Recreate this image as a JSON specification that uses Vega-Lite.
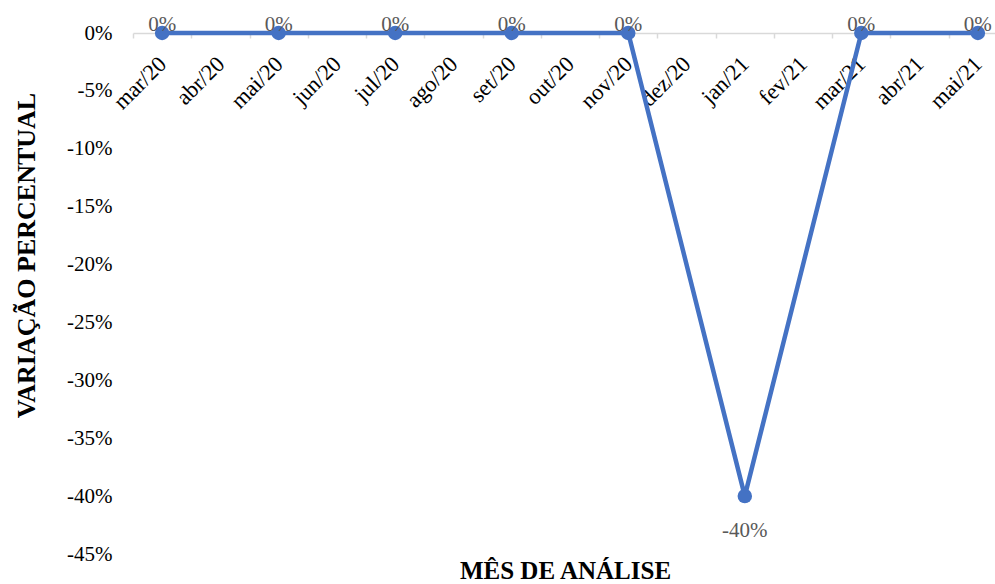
{
  "$schema": "https://vega.github.io/schema/vega-lite/v6.json",
  "width": 862,
  "height": 521,
  "autosize": {"type": "none"},
  "padding": {"left": 133, "top": 33, "right": 0, "bottom": 30},
  "background": "white",
  "config": {
    "font": "Liberation Serif",
    "view": {"stroke": null}
  },
  "data": {
    "values": [
      {"mes": "mar/20", "variacao": 0, "rotulo": "0%"},
      {"mes": "mai/20", "variacao": 0, "rotulo": "0%"},
      {"mes": "jul/20", "variacao": 0, "rotulo": "0%"},
      {"mes": "set/20", "variacao": 0, "rotulo": "0%"},
      {"mes": "nov/20", "variacao": 0, "rotulo": "0%"},
      {"mes": "jan/21", "variacao": -40, "rotulo": "-40%"},
      {"mes": "mar/21", "variacao": 0, "rotulo": "0%"},
      {"mes": "mai/21", "variacao": 0, "rotulo": "0%"}
    ]
  },
  "encoding": {
    "x": {
      "field": "mes",
      "type": "ordinal",
      "bandPosition": 0.5,
      "scale": {
        "type": "band",
        "domain": ["mar/20", "abr/20", "mai/20", "jun/20", "jul/20", "ago/20", "set/20", "out/20", "nov/20", "dez/20", "jan/21", "fev/21", "mar/21", "abr/21", "mai/21"],
        "range": [0, 874],
        "paddingInner": 0,
        "paddingOuter": 0
      },
      "axis": {
        "orient": "bottom",
        "offset": -521,
        "title": "MÊS DE ANÁLISE",
        "titleFontSize": 25,
        "titleFontWeight": "bold",
        "titleColor": "#000000",
        "titleX": 432,
        "titleY": 545,
        "titleAlign": "center",
        "titleBaseline": "alphabetic",
        "labelAngle": -45,
        "labelAlign": "right",
        "labelBaseline": "middle",
        "labelFontSize": 22.5,
        "labelColor": "#000000",
        "labelPadding": 22,
        "labelOverlap": false,
        "labelFlush": false,
        "labelBound": false,
        "tickBand": "extent",
        "tickSize": 5,
        "tickColor": "#d9d9d9",
        "tickWidth": 1.5,
        "domainColor": "#d9d9d9",
        "domainWidth": 1.5,
        "grid": false
      }
    },
    "y": {
      "field": "variacao",
      "type": "quantitative",
      "scale": {"domain": [-45, 0], "nice": false},
      "axis": {
        "values": [0, -5, -10, -15, -20, -25, -30, -35, -40, -45],
        "labelExpr": "datum.value + '%'",
        "labelFontSize": 21,
        "labelColor": "#000000",
        "labelPadding": 21,
        "ticks": false,
        "domain": false,
        "grid": false,
        "title": "VARIAÇÃO PERCENTUAL",
        "titleFontSize": 26,
        "titleFontWeight": "bold",
        "titleColor": "#000000",
        "titleAngle": -90,
        "titleX": -107,
        "titleY": 222,
        "titleAlign": "center",
        "titleBaseline": "middle"
      }
    }
  },
  "layer": [
    {
      "mark": {"type": "line", "color": "#4472C4", "strokeWidth": 4.5},
      "encoding": {"order": {"value": null}}
    },
    {
      "mark": {"type": "point", "filled": true, "shape": "circle", "size": 210, "color": "#4472C4", "opacity": 1}
    },
    {
      "transform": [{"filter": "datum.variacao >= 0"}],
      "mark": {"type": "text", "fontSize": 21, "color": "#595959", "baseline": "alphabetic", "align": "center", "dy": -2},
      "encoding": {"text": {"field": "rotulo"}}
    },
    {
      "transform": [{"filter": "datum.variacao < 0"}],
      "mark": {"type": "text", "fontSize": 21, "color": "#595959", "baseline": "alphabetic", "align": "center", "dy": 41},
      "encoding": {"text": {"field": "rotulo"}}
    }
  ]
}
